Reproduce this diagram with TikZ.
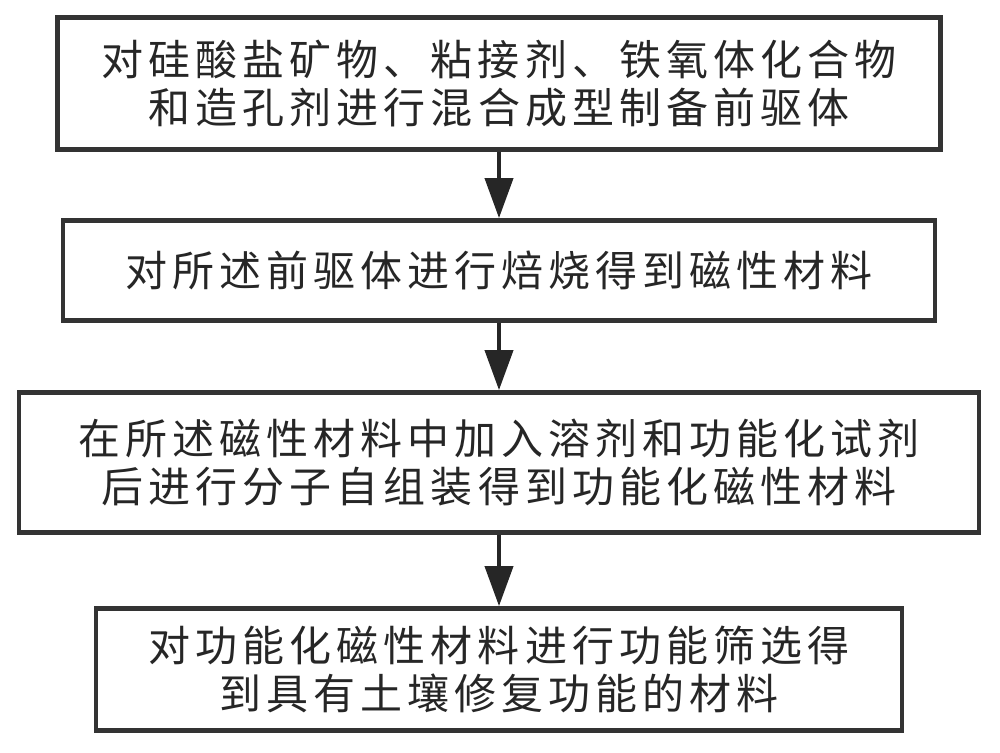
\documentclass[tikz,border=0pt]{standalone}
\usepackage{fontspec}
\usepackage{tikz}
\usetikzlibrary{arrows.meta}
\newfontfamily\cjk[LetterSpace=12]{Noto Sans CJK SC}

\begin{document}
\begin{tikzpicture}[x=0.5pt,y=-0.5pt,
  stepbox/.style={draw=black!80,line width=2.4pt,align=center,inner sep=0pt,
    font=\cjk\fontsize{21}{24}\selectfont,text=black!85},
  flow/.style={line width=2pt,draw=black!85,-{Triangle[length=20pt,width=14pt]}}]
\useasboundingbox (0,0) rectangle (1000,752);

% Process steps
\node[stepbox,minimum width=441.5pt,minimum height=66pt] (mix) at (499,83.5)
  {对硅酸盐矿物、粘接剂、铁氧体化合物\\和造孔剂进行混合成型制备前驱体};
\node[stepbox,minimum width=436pt,minimum height=50pt] (roast) at (499,270.5)
  {对所述前驱体进行焙烧得到磁性材料};
\node[stepbox,minimum width=480pt,minimum height=70pt] (graft) at (499,462.5)
  {在所述磁性材料中加入溶剂和功能化试剂\\后进行分子自组装得到功能化磁性材料};
\node[stepbox,minimum width=403pt,minimum height=61pt] (screen) at (499,669.5)
  {对功能化磁性材料进行功能筛选得\\到具有土壤修复功能的材料};

% Arrows
\draw[flow] (mix) -- (roast);
\draw[flow] (roast) -- (graft);
\draw[flow] (graft) -- (screen);
\end{tikzpicture}
\end{document}
